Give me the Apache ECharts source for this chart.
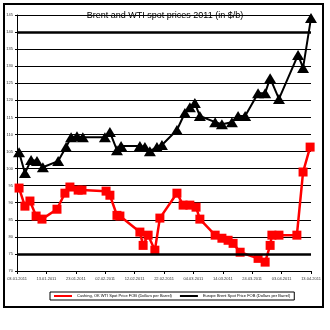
<!DOCTYPE html>
<html><head><meta charset="utf-8">
<script src="https://cdn.jsdelivr.net/npm/echarts@6/dist/echarts.min.js"></script>
<style>html,body{margin:0;padding:0;background:#fff}#c{width:330px;height:330px}</style>
</head><body><div id="c"></div>
<script>
var xTickLabels = ["03.01.2011","13.01.2011","23.01.2011","02.02.2011","12.02.2011","22.02.2011","04.03.2011","14.03.2011","24.03.2011","03.04.2011","13.04.2011"];
var yTicks = [70,75,80,85,90,95,100,105,110,115,120,125,130,135,140,145];
var brentDays = [0.7,2.7,4.8,6.8,8.8,14.0,16.7,18.4,20.4,22.4,29.9,31.6,34.0,35.4,41.8,43.5,45.2,47.6,49.3,54.4,57.1,58.8,60.5,62.2,67.4,69.7,73.1,75.2,77.6,82.0,84.4,86.1,89.1,95.6,97.3,100.0];
var brentVals = [104.8,98.7,102.5,102.2,100.4,102.2,106.3,109.2,109.5,109.2,109.2,110.7,105.4,106.6,106.6,106.3,105.1,106.3,106.9,111.3,116.3,118.0,119.2,115.4,113.6,113.0,113.6,115.4,115.4,122.1,122.1,126.5,120.4,133.3,129.5,144.1];
var wtiDays = [0.7,2.7,4.4,6.5,8.5,13.6,16.3,18.0,20.8,22.1,30.3,31.6,34.0,35.0,41.8,42.9,44.6,46.9,48.6,54.4,56.5,58.8,60.9,62.2,67.4,69.7,71.8,73.5,75.9,82.0,84.4,86.1,86.7,89.1,95.2,97.3,99.7];
var wtiVals = [94.3,89.0,90.5,86.1,85.2,88.1,92.8,94.6,93.7,93.7,93.4,92.2,86.3,86.1,81.4,77.5,80.5,76.1,85.5,92.8,89.3,89.3,88.7,85.2,80.5,79.6,79.0,78.1,75.5,73.7,72.6,77.5,80.5,80.5,80.5,99.0,106.3];
var thickLines = [75,140];
var seriesNames = ["Cushing, OK WTI Spot Price FOB (Dollars per Barrel)","Europe Brent Spot Price FOB (Dollars per Barrel)"];

function pairs(xs, ys){ return xs.map(function(x,i){return [x, ys[i]];}); }

var chart = echarts.init(document.getElementById('c'), null, {renderer:'canvas'});
chart.setOption({
  animation:false,
  backgroundColor:'#fff',
  textStyle:{fontFamily:'Liberation Sans, Arial, sans-serif'},
  title:{text:'Brent and WTI spot prices 2011 (in $/b)', left:'center', top:6,
    textStyle:{fontSize:9, fontWeight:'normal', color:'#000', fontFamily:'Liberation Sans, Arial'}},
  grid:{left:17, right:19, top:15, bottom:59},
  legend:{data:seriesNames, left:50, top:292, width:245, padding:[2,4], itemGap:8,
    borderColor:'#000', borderWidth:1, icon:'rect', itemWidth:18, itemHeight:2,
    textStyle:{fontSize:4, color:'#000'}},
  graphic:[{type:'rect', shape:{x:4,y:4,width:319,height:303}, style:{fill:'none', stroke:'#000', lineWidth:2}, z:-1}],
  xAxis:{type:'value', min:0, max:100, interval:10,
    axisLine:{lineStyle:{color:'#000', width:1}},
    axisTick:{show:true, length:3, inside:false, lineStyle:{color:'#000'}},
    splitLine:{show:false},
    axisLabel:{fontSize:4, color:'#333', margin:6, formatter:function(v){return xTickLabels[Math.round(v/10)]||'';}}},
  yAxis:{type:'value', min:70, max:145, interval:5,
    axisLine:{show:true, lineStyle:{color:'#000', width:1}},
    axisTick:{show:true, length:2, lineStyle:{color:'#000'}},
    splitLine:{show:true, lineStyle:{color:'#000', width:1}},
    axisLabel:{fontSize:4, color:'#333', margin:4}},
  series:[
    {name:seriesNames[0], type:'line', data:pairs(wtiDays, wtiVals), symbol:'rect', symbolSize:9,
      itemStyle:{color:'#ff0000'}, lineStyle:{color:'#ff0000', width:2.5}, z:3,
      markLine:{silent:true, symbol:'none', label:{show:false},
        lineStyle:{color:'#000', width:2.5, type:'solid'}, data:thickLines.map(function(v){return {yAxis:v};})}},
    {name:seriesNames[1], type:'line', data:pairs(brentDays, brentVals), symbol:'triangle', symbolSize:[12,10],
      itemStyle:{color:'#000'}, lineStyle:{color:'#000', width:2}, z:4}
  ]
});
</script></body></html>
